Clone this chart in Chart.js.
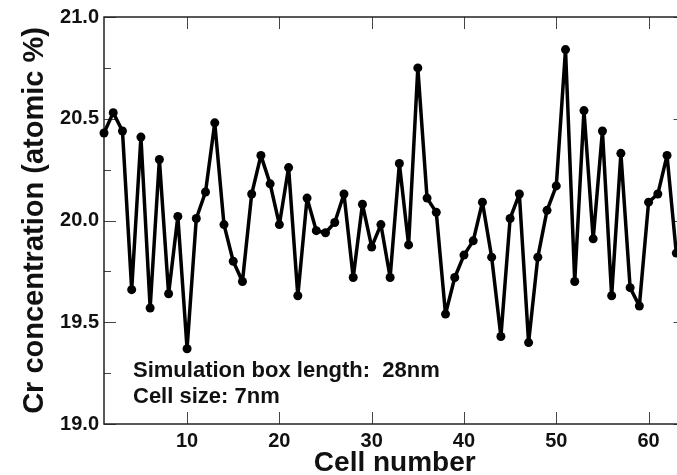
<!DOCTYPE html>
<html>
<head>
<meta charset="utf-8">
<title>Cr concentration per cell</title>
<script src="https://cdn.jsdelivr.net/npm/chart.js@4.4.1/dist/chart.umd.min.js"></script>
<style>
  html, body { margin: 0; padding: 0; background: #fff; overflow: hidden; }
  #wrap { width: 677px; height: 475px; overflow: hidden; }
</style>
</head>
<body>
<div id="wrap"><canvas id="crChart" width="690" height="475"></canvas></div>
<script>
const FONT = '"Liberation Sans", Arial, sans-serif';

// cell index along the simulation box
const CELLS = [
  1, 2, 3, 4, 5, 6, 7, 8, 9, 10,
  11, 12, 13, 14, 15, 16, 17, 18, 19, 20,
  21, 22, 23, 24, 25, 26, 27, 28, 29, 30,
  31, 32, 33, 34, 35, 36, 37, 38, 39, 40,
  41, 42, 43, 44, 45, 46, 47, 48, 49, 50,
  51, 52, 53, 54, 55, 56, 57, 58, 59, 60,
  61, 62, 63,
];

// Cr content of each cell (atomic %)
const CR_CONC = [
  20.43, 20.53, 20.44, 19.66, 20.41, 19.57, 20.30, 19.64, 20.02, 19.37,
  20.01, 20.14, 20.48, 19.98, 19.80, 19.70, 20.13, 20.32, 20.18, 19.98,
  20.26, 19.63, 20.11, 19.95, 19.94, 19.99, 20.13, 19.72, 20.08, 19.87,
  19.98, 19.72, 20.28, 19.88, 20.75, 20.11, 20.04, 19.54, 19.72, 19.83,
  19.90, 20.09, 19.82, 19.43, 20.01, 20.13, 19.40, 19.82, 20.05, 20.17,
  20.84, 19.70, 20.54, 19.91, 20.44, 19.63, 20.33, 19.67, 19.58, 20.09,
  20.13, 20.32, 19.84,
];

const X_MIN = 1;
const X_MAX = 64;
const Y_MIN = 19.0;
const Y_MAX = 21.0;

const X_TICKS = [10, 20, 30, 40, 50, 60];
const Y_TICKS = [19.0, 19.5, 20.0, 20.5, 21.0];
const Y_MINOR = [19.25, 19.75, 20.25, 20.75];

const NOTE_LINES = ["Simulation box length:  28nm", "Cell size: 7nm"];

// boxed frame with inward ticks on all four sides, plus the note text
const framePlugin = {
  id: "frame",
  beforeDatasetsDraw(chart) {
    const { ctx, chartArea: area, scales } = chart;
    const xs = scales.x;
    const ys = scales.y;

    ctx.save();
    ctx.strokeStyle = "#444";
    ctx.lineWidth = 1;
    ctx.beginPath();
    X_TICKS.forEach((v) => {
      const px = Math.round(xs.getPixelForValue(v)) + 0.5;
      ctx.moveTo(px, area.bottom);
      ctx.lineTo(px, area.bottom - 12);
      ctx.moveTo(px, area.top);
      ctx.lineTo(px, area.top + 12);
    });
    Y_TICKS.forEach((v) => {
      const py = Math.round(ys.getPixelForValue(v)) + 0.5;
      ctx.moveTo(area.left, py);
      ctx.lineTo(area.left + 12, py);
      ctx.moveTo(area.right, py);
      ctx.lineTo(area.right - 12, py);
    });
    Y_MINOR.forEach((v) => {
      const py = Math.round(ys.getPixelForValue(v)) + 0.5;
      ctx.moveTo(area.left, py);
      ctx.lineTo(area.left + 7, py);
      ctx.moveTo(area.right, py);
      ctx.lineTo(area.right - 7, py);
    });
    ctx.stroke();

    ctx.strokeStyle = "#222";
    ctx.lineWidth = 1.5;
    ctx.strokeRect(area.left, area.top, area.right - area.left, area.bottom - area.top);
    ctx.restore();
  },
  afterDraw(chart) {
    const { ctx, chartArea: area } = chart;
    ctx.save();
    ctx.fillStyle = "#111";
    ctx.font = `bold 22px ${FONT}`;
    ctx.textAlign = "left";
    ctx.textBaseline = "alphabetic";
    NOTE_LINES.forEach((line, i) => {
      ctx.fillText(line, area.left + 29, area.bottom - 47 + i * 26);
    });
    ctx.restore();
  },
};

new Chart(document.getElementById("crChart"), {
  type: "line",
  data: {
    labels: CELLS,
    datasets: [
      {
        data: CELLS.map((c, i) => ({ x: c, y: CR_CONC[i] })),
        borderColor: "#000",
        backgroundColor: "#000",
        borderWidth: 3.5,
        borderJoinStyle: "round",
        borderCapStyle: "round",
        pointRadius: 4.5,
        pointBackgroundColor: "#000",
        pointBorderWidth: 0,
        tension: 0,
        clip: false,
      },
    ],
  },
  options: {
    responsive: false,
    animation: false,
    layout: {
      padding: { top: 16, right: 4, left: 0, bottom: 0 },
    },
    plugins: {
      legend: { display: false },
      tooltip: { enabled: false },
    },
    scales: {
      x: {
        type: "linear",
        min: X_MIN,
        max: X_MAX,
        grid: { display: false, drawTicks: false },
        border: { display: false },
        afterFit: (scale) => {
          scale.height = 51;
        },
        afterBuildTicks: (scale) => {
          scale.ticks = X_TICKS.map((v) => ({ value: v }));
        },
        ticks: {
          color: "#111",
          padding: 5,
          font: { family: FONT, size: 20, weight: "bold" },
          maxRotation: 0,
        },
        title: {
          display: true,
          text: "Cell number",
          color: "#111",
          font: { family: FONT, size: 28, weight: "bold", lineHeight: 1 },
          padding: { top: 0, bottom: -2 },
        },
      },
      y: {
        min: Y_MIN,
        max: Y_MAX,
        grid: { display: false, drawTicks: false },
        border: { display: false },
        afterFit: (scale) => {
          scale.width = 104;
        },
        afterBuildTicks: (scale) => {
          scale.ticks = Y_TICKS.map((v) => ({ value: v }));
        },
        ticks: {
          color: "#111",
          padding: 5,
          font: { family: FONT, size: 20, weight: "bold" },
          callback: (value) => value.toFixed(1),
        },
        title: {
          display: true,
          text: "Cr concentration (atomic %)",
          color: "#111",
          font: { family: FONT, size: 29, weight: "bold", lineHeight: 1 },
          padding: { top: 20, bottom: 0 },
        },
      },
    },
  },
  plugins: [framePlugin],
});
</script>
</body>
</html>
